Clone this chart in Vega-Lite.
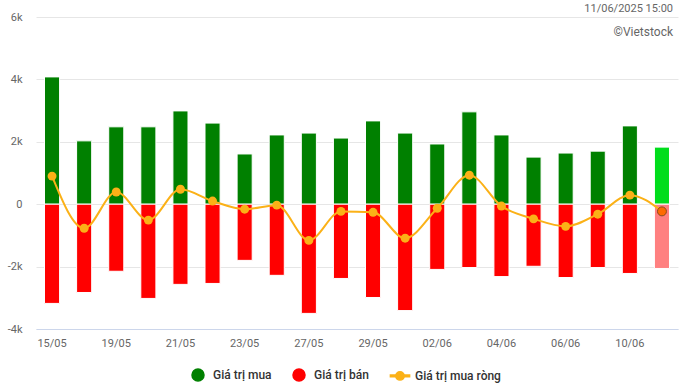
{
  "$schema": "https://vega.github.io/schema/vega-lite/v6.json",
  "width": 642,
  "height": 312,
  "autosize": "none",
  "padding": {"left": 36, "top": 17, "right": 3, "bottom": 58},
  "background": "white",
  "config": {"font": "Roboto", "view": {"stroke": null}},
  "title": {
    "text": "11/06/2025 15:00",
    "subtitle": "©Vietstock",
    "anchor": "end",
    "orient": "top",
    "offset": -27,
    "dx": -5,
    "fontSize": 11,
    "fontWeight": "normal",
    "color": "#666666",
    "subtitleFontSize": 12,
    "subtitleColor": "#666666",
    "subtitlePadding": 13
  },
  "data": {
    "values": [
      {"date": "15/05", "buy": 4080, "sell": -3180, "net": 900},
      {"date": "16/05", "buy": 2030, "sell": -2830, "net": -770},
      {"date": "19/05", "buy": 2480, "sell": -2150, "net": 390},
      {"date": "20/05", "buy": 2480, "sell": -3020, "net": -510},
      {"date": "21/05", "buy": 2990, "sell": -2570, "net": 480},
      {"date": "22/05", "buy": 2600, "sell": -2540, "net": 100},
      {"date": "23/05", "buy": 1610, "sell": -1800, "net": -160},
      {"date": "26/05", "buy": 2220, "sell": -2280, "net": -30},
      {"date": "27/05", "buy": 2280, "sell": -3500, "net": -1160},
      {"date": "28/05", "buy": 2120, "sell": -2380, "net": -230},
      {"date": "29/05", "buy": 2670, "sell": -2990, "net": -260},
      {"date": "30/05", "buy": 2280, "sell": -3410, "net": -1090},
      {"date": "02/06", "buy": 1930, "sell": -2090, "net": -130},
      {"date": "03/06", "buy": 2960, "sell": -2030, "net": 930},
      {"date": "04/06", "buy": 2220, "sell": -2320, "net": -60},
      {"date": "05/06", "buy": 1510, "sell": -1990, "net": -470},
      {"date": "06/06", "buy": 1640, "sell": -2350, "net": -710},
      {"date": "09/06", "buy": 1700, "sell": -2030, "net": -320},
      {"date": "10/06", "buy": 2510, "sell": -2220, "net": 290},
      {"date": "11/06", "buy": 1830, "sell": -2060, "net": -230}
    ]
  },
  "encoding": {
    "x": {
      "field": "date",
      "type": "ordinal",
      "sort": null,
      "scale": {"paddingInner": 0.53, "paddingOuter": 0.265},
      "axis": {
        "title": null,
        "values": ["15/05", "19/05", "21/05", "23/05", "27/05", "29/05", "02/06", "04/06", "06/06", "10/06"],
        "labelAngle": 0,
        "labelFontSize": 11,
        "labelColor": "#666666",
        "labelPadding": 8,
        "ticks": false,
        "domainColor": "#ccd6eb",
        "domainWidth": 1,
        "offset": 0
      }
    }
  },
  "layer": [
    {
      "mark": {"type": "bar", "stroke": "white", "strokeWidth": 1},
      "encoding": {
        "y": {
          "field": "buy",
          "type": "quantitative",
          "scale": {"domain": [-4000, 6000], "nice": false},
          "axis": {
            "title": null,
            "values": [-4000, -2000, 0, 2000, 4000, 6000],
            "labelExpr": "datum.value == 0 ? '0' : (datum.value / 1000) + 'k'",
            "labelFontSize": 11,
            "labelColor": "#666666",
            "labelPadding": 14,
            "domain": false,
            "ticks": false,
            "gridColor": "#e6e6e6",
            "gridWidth": 1
          }
        },
        "color": {
          "datum": "Giá trị mua",
          "condition": {"test": "datum.date == '11/06'", "value": "#00dd1c"},
          "scale": {
            "domain": ["Giá trị mua", "Giá trị bán", "Giá trị mua ròng"],
            "range": ["#008000", "#ff0000", "#fbb117"]
          },
          "legend": {
            "title": null,
            "orient": "none",
            "legendX": 155,
            "legendY": 351,
            "direction": "horizontal",
            "labelFontSize": 12,
            "labelColor": "#333333",
            "labelFontWeight": 500,
            "columnPadding": 18,
            "symbolSize": 144,
            "symbolOffset": 0,
            "labelOffset": 8,
            "symbolType": {"expr": "datum.value == 'Giá trị mua ròng' ? 'M-1.6,-0.15H1.6V0.15H-1.6Z M-0.7,0A0.7,0.7,0,1,1,0.7,0A0.7,0.7,0,1,1,-0.7,0Z' : 'circle'"},
            "encode": {
              "symbols": {
                "update": {
                  "shape": {"signal": "datum.value == 'Giá trị mua ròng' ? 'M-1.6,-0.15H1.6V0.15H-1.6Z M-0.7,0A0.7,0.7,0,1,1,0.7,0A0.7,0.7,0,1,1,-0.7,0Z' : 'circle'"},
                  "fill": {"signal": "scale('color', datum.value)"},
                  "stroke": {"value": null},
                  "strokeWidth": {"value": 0},
                  "opacity": {"value": 1},
                  "fillOpacity": {"value": 1}
                }
              }
            }
          }
        }
      }
    },
    {
      "mark": {"type": "bar", "stroke": "white", "strokeWidth": 1},
      "encoding": {
        "y": {"field": "sell", "type": "quantitative"},
        "color": {
          "datum": "Giá trị bán",
          "condition": {"test": "datum.date == '11/06'", "value": "#ff8080"}
        }
      }
    },
    {
      "mark": {"type": "line", "interpolate": "monotone", "strokeWidth": 2},
      "encoding": {
        "y": {"field": "net", "type": "quantitative"},
        "color": {"datum": "Giá trị mua ròng"}
      }
    },
    {
      "mark": {"type": "point", "filled": true, "size": 80, "opacity": 1},
      "encoding": {
        "y": {"field": "net", "type": "quantitative"},
        "color": {
          "datum": "Giá trị mua ròng",
          "condition": {"test": "datum.date == '11/06'", "value": "#ff6a00"}
        },
        "stroke": {
          "condition": {"test": "datum.date == '11/06'", "value": "#8a4a1a"},
          "value": null
        },
        "strokeWidth": {"value": 1}
      }
    }
  ]
}
